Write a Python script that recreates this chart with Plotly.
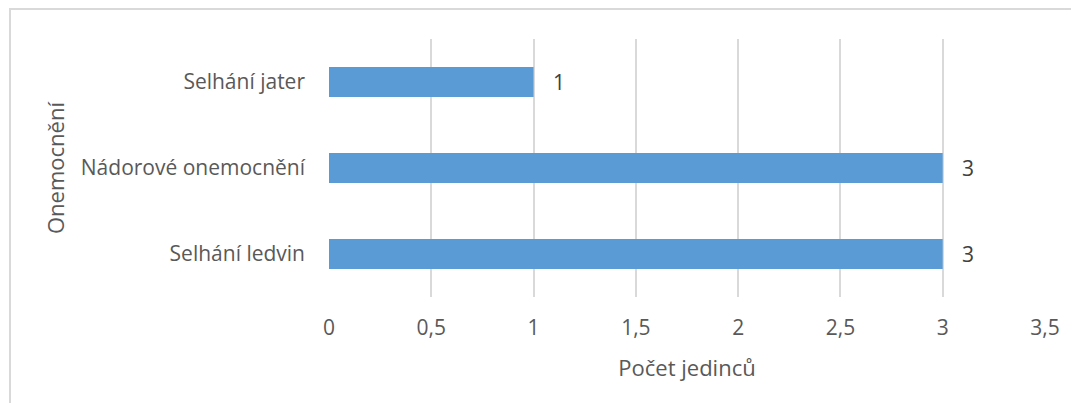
import plotly.graph_objects as go

# data, bottom to top
diseases = ["Selhání ledvin", "Nádorové onemocnění", "Selhání jater"]
counts = [3, 3, 1]
x_ticks = [0, 0.5, 1, 1.5, 2, 2.5, 3, 3.5]

BAR = "#5B9BD5"
TEXT = "#595959"
GRID = "#D9D9D9"
FONT = "Open Sans, sans-serif"

fig = go.Figure(go.Bar(
    x=counts, y=diseases,
    orientation="h",
    marker=dict(color=BAR, line=dict(width=0)),
    texttemplate="\u00a0\u00a0\u00a0%{x}",
    textposition="outside",
    textfont=dict(color="#404040", size=21, family=FONT),
    cliponaxis=False,
))

# page body is offset by 8px, so margins are shifted to compensate
fig.update_layout(
    width=1079, height=403,
    paper_bgcolor="white",
    plot_bgcolor="white",
    separators=", ",
    font=dict(family=FONT, color=TEXT, size=21),
    margin=dict(l=321, r=42, t=31, b=114, autoexpand=False),
    bargap=0.65,
    showlegend=False,
    xaxis=dict(
        range=[0, 3.5],
        tickvals=x_ticks,
        showgrid=True, gridcolor=GRID, gridwidth=2,
        zeroline=False, showline=False,
        ticks="", ticklabelstandoff=16,
        tickfont=dict(size=21, color=TEXT),
        title=dict(text="Počet jedinců", font=dict(size=22, color=TEXT), standoff=20),
    ),
    yaxis=dict(
        showgrid=False, zeroline=False, showline=False,
        ticks="", ticklabelstandoff=23,
        tickfont=dict(size=21, color=TEXT),
        title=dict(text="Onemocnění", font=dict(size=22, color=TEXT), standoff=10),
    ),
)

# chart border (extends past the visible area)
fig.add_shape(
    type="rect", xref="paper", yref="paper",
    x0=-0.4455, x1=1.2, y0=-0.7, y1=1.116,
    line=dict(color=GRID, width=2), fillcolor="rgba(0,0,0,0)", layer="below",
)

fig.write_html("out.html")
